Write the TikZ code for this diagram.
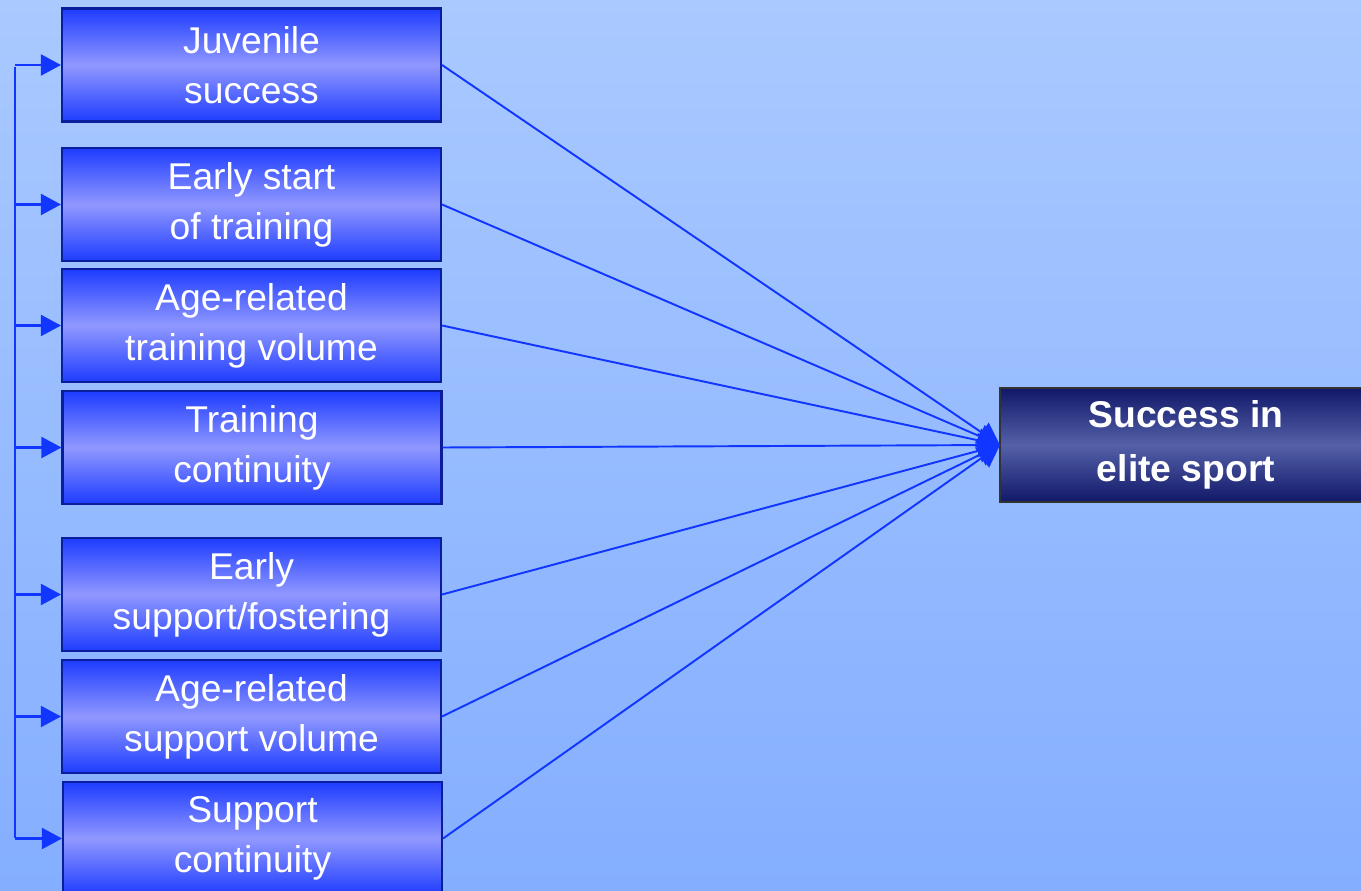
\documentclass[tikz,border=0pt]{standalone}
\usepackage{fontspec}
\setmainfont{Liberation Sans}
\usetikzlibrary{arrows.meta}
\definecolor{bgtop}{HTML}{A9C9FF}
\definecolor{bgmid}{HTML}{BCD7FF}
\definecolor{bgbot}{HTML}{84AEFF}
\definecolor{linkblue}{HTML}{1036FF}
\definecolor{boxedge}{HTML}{0A1E9C}
\definecolor{boxdark}{HTML}{1E3CFF}
\definecolor{boxlight}{HTML}{9098FF}
\definecolor{goaldark}{HTML}{101868}
\definecolor{goallight}{HTML}{5460A8}
\tikzset{
  factor/.style={draw=boxedge, line width=0.6pt, top color=boxdark, bottom color=boxdark,
    middle color=boxlight, minimum width=3.79cm, minimum height=1.13cm,
    text=white, align=center, font=\fontsize{10.6}{14.2}\selectfont, inner sep=0pt},
  goal/.style={draw=black!80, line width=0.6pt, top color=goaldark, bottom color=goaldark,
    middle color=goallight, minimum width=3.9cm, minimum height=1.14cm,
    text=white, align=center, font=\bfseries\fontsize{10.6}{15.4}\selectfont, inner sep=0pt},
  link/.style={draw=linkblue, line width=0.55pt, -{Triangle[length=0.22cm, width=0.24cm]}},
  feed/.style={draw=linkblue, line width=0.6pt, -{Triangle[length=0.2cm, width=0.21cm]}}
}
\begin{document}
\begin{tikzpicture}
  % Background
  \useasboundingbox (0,0) rectangle (13.61,8.91);
  \shade[top color=bgtop, middle color=bgmid, bottom color=bgbot] (0,0) rectangle (13.61,8.91);

  % Influencing factors
  \node[factor] (juv) at (2.515,8.26) {Juvenile\\success};
  \node[factor] (start) at (2.515,6.865) {Early start\\of training};
  \node[factor] (trvol) at (2.515,5.655) {Age-related\\training volume};
  \node[factor] (trcont) at (2.52,4.435) {Training\\continuity};
  \node[factor] (early) at (2.515,2.965) {Early\\support/fostering};
  \node[factor] (suvol) at (2.515,1.745) {Age-related\\support volume};
  \node[factor] (sucont) at (2.525,0.525) {Support\\continuity};

  % Outcome (cut off at the right edge)
  \node[goal] (elite) at (11.95,4.46) {\hspace*{-0.18cm}Success in\\\hspace*{-0.18cm}elite sport};
  \coordinate (tip) at (10.0,4.46);

  % Fan of arrows into the outcome
  \foreach \f in {juv,start,trvol,trcont,early,suvol,sucont}
    \draw[link] (\f.east) -- (tip);

  % Feedback rail on the left
  \coordinate (top) at (0.15,8.24);
  \coordinate (bot) at (0.15,0.53);
  \draw[linkblue, line width=0.6pt] (top) -- (bot);
  \foreach \f in {juv,start,trvol,trcont,early,suvol,sucont}
    \draw[feed] (top |- \f.west) -- (\f.west);
\end{tikzpicture}
\end{document}
